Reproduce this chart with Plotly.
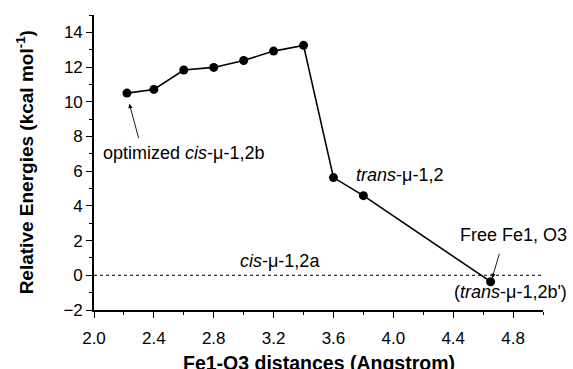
import plotly.graph_objects as go

distances = [2.22, 2.40, 2.60, 2.80, 3.00, 3.20, 3.40, 3.60, 3.80, 4.65]
energies = [10.50, 10.71, 11.83, 11.98, 12.38, 12.92, 13.25, 5.63, 4.59, -0.37]

x_ticks = [2.0, 2.4, 2.8, 3.2, 3.6, 4.0, 4.4, 4.8]
y_ticks = [-2, 0, 2, 4, 6, 8, 10, 12, 14]

FONT = "Liberation Sans, Arial, sans-serif"

fig = go.Figure()
fig.add_trace(go.Scatter(
    x=[2.0, 5.0], y=[0, 0], mode="lines",
    line=dict(color="black", width=1, dash="dot"),
    hoverinfo="skip", showlegend=False))
fig.add_trace(go.Scatter(
    x=distances, y=energies, mode="lines+markers",
    line=dict(color="black", width=1.6),
    marker=dict(color="black", size=9),
    showlegend=False))

ANN_SIZE = 18
annots = [
    dict(x=2.60, y=7.06, text="optimized <i>cis</i>-μ-1,2b"),
    dict(x=4.04, y=5.79, text="<i>trans</i>-μ-1,2"),
    dict(x=3.244, y=0.83, text="<i>cis</i>-μ-1,2a"),
]
for a in annots:
    fig.add_annotation(x=a["x"], y=a["y"], text=a["text"], showarrow=False,
                       xref="x", yref="y",
                       font=dict(family=FONT, size=ANN_SIZE, color="black"))

fig.add_annotation(x=1.058, y=2.31, xref="paper", yref="y", xanchor="right",
                   text="Free Fe1, O3", showarrow=False,
                   font=dict(family=FONT, size=ANN_SIZE, color="black"))
fig.add_annotation(x=1.058, y=-0.96, xref="paper", yref="y", xanchor="right",
                   text="(<i>trans</i>-μ-1,2b')", showarrow=False,
                   font=dict(family=FONT, size=ANN_SIZE, color="black"))

fig.add_annotation(x=2.236, y=9.89, ax=10, ay=37, xref="x", yref="y",
                   text=" ", showarrow=True, arrowhead=2, arrowsize=1,
                   arrowwidth=0.9, arrowcolor="black",
                   font=dict(size=2))
fig.add_annotation(x=4.66, y=-0.17, ax=8, ay=-27, xref="x", yref="y",
                   text=" ", showarrow=True, arrowhead=2, arrowsize=1,
                   arrowwidth=0.9, arrowcolor="black",
                   font=dict(size=2))

# axis titles placed as paper annotations for exact positioning
fig.add_annotation(x=0.5, y=-0.178, xref="paper", yref="paper",
                   xanchor="center", yanchor="middle", showarrow=False,
                   text="<b>Fe1-O3 distances (Angstrom)</b>",
                   font=dict(family=FONT, size=19.5, color="black"))
fig.add_annotation(x=-0.154, y=0.5, xref="paper", yref="paper",
                   xanchor="center", yanchor="middle", showarrow=False,
                   textangle=-90,
                   text="<b>Relative Energies (kcal mol<sup>-1</sup>)</b>",
                   font=dict(family=FONT, size=19, color="black"))

fig.update_layout(
    width=573, height=369,
    margin=dict(l=94, r=30, t=15, b=59, autoexpand=False),
    paper_bgcolor="white", plot_bgcolor="white",
    font=dict(family=FONT, size=17, color="black"),
    xaxis=dict(
        range=[2.0, 5.0], tickvals=x_ticks,
        ticktext=[f"{v:.1f}" for v in x_ticks],
        showgrid=False, zeroline=False, automargin=False,
        showline=True, linecolor="black", linewidth=1.6,
        ticks="outside", ticklen=6, tickwidth=1.4, tickcolor="black",
        minor=dict(dtick=0.2, tick0=2.0, ticks="outside", ticklen=3,
                   tickwidth=1.2, tickcolor="black", showgrid=False),
        tickfont=dict(family=FONT, size=17),
        ticklabelstandoff=6,
    ),
    yaxis=dict(
        range=[-2, 15], tickvals=y_ticks,
        showgrid=False, zeroline=False, automargin=False,
        showline=True, linecolor="black", linewidth=1.6,
        ticks="outside", ticklen=6, tickwidth=1.4, tickcolor="black",
        minor=dict(dtick=1, tick0=-2, ticks="outside", ticklen=3,
                   tickwidth=1.2, tickcolor="black", showgrid=False),
        tickfont=dict(family=FONT, size=17),
    ),
)

fig.write_html(
    "out.html",
    config={"displayModeBar": False},
    post_script="document.body.style.margin='0';document.body.style.overflow='hidden';",
)
